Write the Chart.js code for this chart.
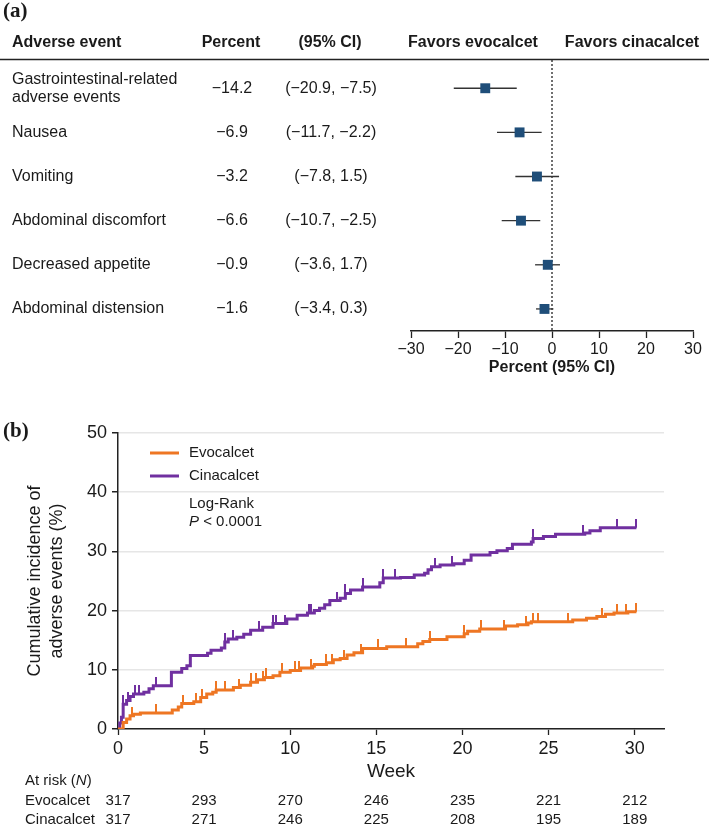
<!DOCTYPE html>
<html>
<head>
<meta charset="utf-8">
<script src="https://cdn.jsdelivr.net/npm/chart.js@4.4.0/dist/chart.umd.min.js"></script>
<style>
  body { margin: 0; background: #fff; }
  #forest { position: absolute; left: 0; top: 0; }
  #km { position: absolute; left: 0; top: 400px; }
</style>
</head>
<body>
<canvas id="forest" width="709" height="392"></canvas>
<canvas id="km" width="709" height="426"></canvas>
<script>
// ---- panel (a) data ----
const events = [['Gastrointestinal-related', 'adverse events'], 'Nausea', 'Vomiting',
  'Abdominal discomfort', 'Decreased appetite', 'Abdominal distension'];
const pctDiff = [-14.2, -6.9, -3.2, -6.6, -0.9, -1.6];
const ciLow = [-20.9, -11.7, -7.8, -10.7, -3.6, -3.4];
const ciHigh = [-7.5, -2.2, 1.5, -2.5, 1.7, 0.3];

// ---- panel (b) data ----
const weeks = [0, 5, 10, 15, 20, 25, 30];
const atRiskEvo = [317, 293, 270, 246, 235, 221, 212];
const atRiskCina = [317, 271, 246, 225, 208, 195, 189];

const evoTime = [0, 0.3, 0.5, 0.7, 0.9, 1.3, 3.15, 3.5, 3.7, 4.4, 4.8, 5.15, 5.5, 5.7, 6.7, 7.1, 7.7, 8.1, 8.5, 9.0,
  9.4, 10.0, 10.6, 11.3, 11.4, 12.1, 12.5, 12.9, 13.3, 13.7, 14.2, 15.6, 17.4, 17.7, 18.1, 19.1, 20.1, 20.3, 21.0,
  22.5, 23.2, 23.8, 24.0, 26.4, 27.2, 27.8, 28.3, 28.8, 29.6, 30.1];
const evoPct = [0, 1.1, 1.7, 2.25, 2.5, 2.7, 3.2, 3.7, 4.3, 4.6, 5.3, 5.9, 6.2, 6.6, 7.0, 7.4, 7.9, 8.3, 8.7, 9.0,
  9.6, 9.9, 10.3, 10.6, 10.9, 11.2, 11.7, 11.9, 12.5, 12.9, 13.6, 13.9, 14.4, 14.8, 15.1, 15.6, 16.1, 16.5, 16.9,
  17.4, 17.6, 17.9, 18.1, 18.4, 18.7, 19.0, 19.4, 19.6, 19.8, 19.8];
const evoCensor = [0.8, 2.2, 3.8, 4.5, 4.9, 5.7, 6.2, 7.0, 7.7, 8.0, 8.4, 8.6, 9.5, 10.3, 10.5, 11.2, 12.1, 12.4,
  13.1, 14.1, 15.1, 16.7, 18.1, 20.1, 21.1, 22.4, 23.7, 24.1, 24.4, 26.1, 28.1, 29.0, 29.5, 30.1];

const cinaTime = [0, 0.1, 0.2, 0.3, 0.5, 0.7, 0.9, 1.5, 1.8, 2.05, 3.1, 3.7, 4.0, 4.2, 5.2, 5.4, 6.0, 6.2, 6.4, 6.9,
  7.3, 7.7, 8.4, 9.0, 9.8, 10.4, 11.0, 11.4, 11.7, 12.0, 12.3, 12.9, 13.2, 13.5, 14.2, 15.2, 15.4, 16.4, 17.2, 17.8,
  18.0, 18.2, 18.7, 19.5, 20.1, 20.5, 21.6, 22.0, 22.6, 22.9, 24.0, 24.1, 24.7, 25.4, 27.1, 27.4, 28.0, 30.1];
const cinaPct = [0, 1.0, 2.0, 4.2, 4.8, 5.5, 5.9, 6.2, 6.8, 7.3, 9.6, 10.2, 10.7, 12.4, 12.8, 13.3, 13.7, 14.7, 15.2, 15.5,
  16.0, 16.7, 17.2, 17.8, 18.6, 19.2, 19.6, 20.0, 20.4, 21.0, 21.7, 22.1, 22.9, 23.5, 24.0, 24.7, 25.5, 25.6, 26.0, 26.3,
  26.9, 27.4, 27.7, 27.9, 28.5, 29.4, 29.8, 30.1, 30.5, 31.2, 31.6, 32.2, 32.5, 32.9, 33.1, 33.5, 34.0, 34.0];
const cinaCensor = [0.3, 0.6, 1.0, 1.2, 2.2, 6.2, 6.7, 8.2, 9.0, 9.2, 9.7, 11.1, 11.2, 12.7, 13.2, 14.2, 15.4, 16.1,
  18.4, 19.4, 24.1, 27.0, 29.0, 30.1];

const ORANGE = '#ee7623';
const PURPLE = '#7030a0';
const INK = '#1a1a1a';
const SANS = '"Liberation Sans", Arial, sans-serif';

Chart.defaults.font.family = SANS;
Chart.defaults.color = INK;

function minus(v) {
  return v < 0 ? '\u2212' + Math.abs(v).toFixed(1) : v.toFixed(1);
}

function levelAt(times, pcts, t) {
  let v = 0;
  times.forEach((tt, i) => { if (tt <= t) v = pcts[i]; });
  return v;
}

// censor tick: short vertical stroke above the point
function tickImg(color) {
  const c = document.createElement('canvas');
  c.width = 2; c.height = 18;
  const g = c.getContext('2d');
  g.fillStyle = color;
  g.fillRect(0, 0, 2, 9);
  return c;
}

// ---------- panel (a) ----------
const forestTable = {
  id: 'forestTable',
  afterDraw(chart) {
    const { ctx } = chart;
    const y = chart.scales.y;
    ctx.save();
    ctx.fillStyle = INK;
    ctx.textBaseline = 'middle';
    ctx.textAlign = 'left';
    ctx.font = 'bold 21px "Liberation Serif", serif';
    ctx.fillText('(a)', 3, 12);

    ctx.font = 'bold 16px ' + SANS;
    ctx.fillText('Adverse event', 12, 43);
    ctx.textAlign = 'center';
    ctx.fillText('Percent', 231, 43);
    ctx.fillText('(95% CI)', 330, 43);
    ctx.fillText('Favors evocalcet', 473, 43);
    ctx.fillText('Favors cinacalcet', 632, 43);

    ctx.strokeStyle = '#222';
    ctx.lineWidth = 1.5;
    ctx.beginPath();
    ctx.moveTo(0, 59.5);
    ctx.lineTo(709, 59.5);
    ctx.stroke();

    ctx.font = '16px ' + SANS;
    events.forEach((ev, i) => {
      const py = y.getPixelForValue(i);
      const lines = Array.isArray(ev) ? ev : [ev];
      ctx.textAlign = 'left';
      lines.forEach((ln, k) => ctx.fillText(ln, 12, py + (k - (lines.length - 1) / 2) * 18));
      ctx.textAlign = 'center';
      ctx.fillText(minus(pctDiff[i]), 232, py);
      ctx.fillText('(' + minus(ciLow[i]) + ', ' + minus(ciHigh[i]) + ')', 331, py);
    });
    ctx.restore();
  }
};

new Chart(document.getElementById('forest'), {
  type: 'scatter',
  data: {
    datasets: [
      {
        type: 'scatter',
        data: pctDiff.map((v, i) => ({ x: v, y: i })),
        pointStyle: 'rect',
        pointRadius: 7,
        backgroundColor: '#1f4e79',
        borderColor: '#1f4e79',
        borderWidth: 0
      },
      ...ciLow.map((lo, i) => ({
        type: 'line',
        data: [{ x: lo, y: i }, { x: ciHigh[i], y: i }],
        borderColor: '#333',
        borderWidth: 1.3,
        pointRadius: 0
      })),
      {
        type: 'line',
        data: [{ x: 0, y: -0.64 }, { x: 0, y: 5.5 }],
        borderColor: '#111',
        borderWidth: 1.2,
        borderDash: [2, 2],
        pointRadius: 0
      }
    ]
  },
  options: {
    responsive: false,
    animation: false,
    events: [],
    layout: { padding: { left: 411, right: 16, top: 60, bottom: 11 } },
    plugins: { legend: { display: false }, tooltip: { enabled: false } },
    scales: {
      x: {
        type: 'linear', min: -30, max: 30,
        ticks: { stepSize: 10, font: { size: 16 }, color: INK, padding: 2,
          callback: v => (v < 0 ? '\u2212' + Math.abs(v) : String(v)) },
        grid: { drawOnChartArea: false, tickLength: 7, tickColor: '#222', tickWidth: 1.3 },
        border: { color: '#222', width: 1.5 },
        title: { display: true, text: 'Percent (95% CI)', font: { size: 16, weight: 'bold' }, color: INK,
          padding: { top: 2, bottom: 4 } },
        afterFit: s => { s.height = 50; }
      },
      y: { type: 'linear', display: false, reverse: true, min: -0.64, max: 5.5 }
    }
  },
  plugins: [forestTable]
});

// ---------- panel (b) ----------
const kmExtras = {
  id: 'kmExtras',
  afterDraw(chart) {
    const { ctx } = chart;
    const x = chart.scales.x;
    ctx.save();
    ctx.fillStyle = INK;
    ctx.textBaseline = 'middle';
    ctx.textAlign = 'left';
    ctx.font = 'bold 21px "Liberation Serif", serif';
    ctx.fillText('(b)', 3, 32);

    // legend
    ctx.lineWidth = 3;
    [[ORANGE, 'Evocalcet', 53], [PURPLE, 'Cinacalcet', 76]].forEach(([c, t, py]) => {
      ctx.strokeStyle = c;
      ctx.beginPath();
      ctx.moveTo(150, py);
      ctx.lineTo(179, py);
      ctx.stroke();
      ctx.font = '15px ' + SANS;
      ctx.fillText(t, 189, py);
    });
    ctx.fillText('Log-Rank', 189, 104);
    ctx.font = 'italic 15px ' + SANS;
    ctx.fillText('P', 189, 122);
    const pw = ctx.measureText('P').width;
    ctx.font = '15px ' + SANS;
    ctx.fillText(' < 0.0001', 189 + pw, 122);

    // at-risk table
    const tx = 25;
    ctx.fillText('At risk (', tx, 380.5);
    let w = ctx.measureText('At risk (').width;
    ctx.font = 'italic 15px ' + SANS;
    ctx.fillText('N', tx + w, 380.5);
    w += ctx.measureText('N').width;
    ctx.font = '15px ' + SANS;
    ctx.fillText(')', tx + w, 380.5);
    ctx.fillText('Evocalcet', tx, 400.5);
    ctx.fillText('Cinacalcet', tx, 420);
    ctx.textAlign = 'center';
    weeks.forEach((wk, k) => {
      const px = x.getPixelForValue(wk);
      ctx.fillText(String(atRiskEvo[k]), px, 400.5);
      ctx.fillText(String(atRiskCina[k]), px, 420);
    });
    ctx.restore();
  }
};

new Chart(document.getElementById('km'), {
  type: 'line',
  data: {
    datasets: [
      {
        label: 'Evocalcet',
        data: evoTime.map((t, i) => ({ x: t, y: evoPct[i] })),
        stepped: 'before',
        borderColor: ORANGE,
        borderWidth: 3,
        pointRadius: 0,
        fill: false
      },
      {
        label: 'Cinacalcet',
        data: cinaTime.map((t, i) => ({ x: t, y: cinaPct[i] })),
        stepped: 'before',
        borderColor: PURPLE,
        borderWidth: 3,
        pointRadius: 0,
        fill: false
      },
      {
        type: 'scatter',
        data: evoCensor.map(t => ({ x: t, y: levelAt(evoTime, evoPct, t) })),
        pointStyle: tickImg(ORANGE)
      },
      {
        type: 'scatter',
        data: cinaCensor.map(t => ({ x: t, y: levelAt(cinaTime, cinaPct, t) })),
        pointStyle: tickImg(PURPLE)
      }
    ]
  },
  options: {
    responsive: false,
    animation: false,
    events: [],
    layout: { padding: { left: 0, right: 45, top: 33, bottom: 39 } },
    plugins: { legend: { display: false }, tooltip: { enabled: false } },
    scales: {
      x: {
        type: 'linear', min: 0, max: 31.7,
        afterBuildTicks: a => { a.ticks = weeks.map(v => ({ value: v })); },
        ticks: { font: { size: 18 }, color: INK, padding: 3 },
        grid: { drawOnChartArea: false, tickLength: 6, tickColor: '#222', tickWidth: 1.3 },
        border: { color: '#222', width: 1.5 },
        title: { display: true, text: 'Week', font: { size: 19 }, color: INK, padding: { top: 0, bottom: 4 } },
        afterFit: s => { s.height = 58; }
      },
      y: {
        type: 'linear', min: 0, max: 50,
        ticks: { stepSize: 10, font: { size: 18 }, color: INK, padding: 5 },
        grid: { color: '#e6e6e6', lineWidth: 1.5, tickColor: '#222', tickLength: 6 },
        border: { color: '#222', width: 1.5 },
        title: { display: true, text: ['Cumulative incidence of', 'adverse events (%)'], font: { size: 18, lineHeight: 1.22 },
          color: INK, padding: { top: 24, bottom: 0 } },
        afterFit: s => { s.width = 118; }
      }
    }
  },
  plugins: [kmExtras]
});
</script>
</body>
</html>
